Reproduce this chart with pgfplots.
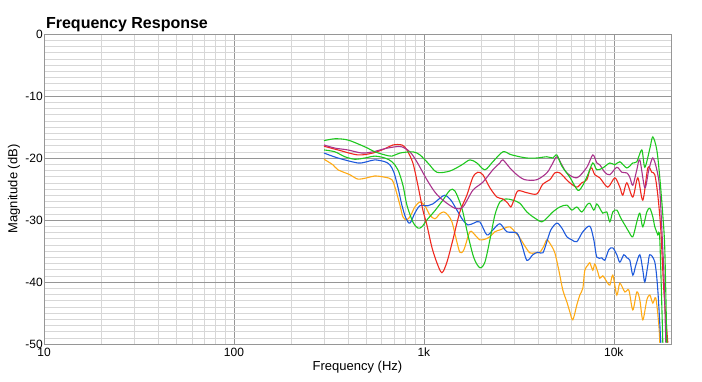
\documentclass[border=0pt]{standalone}
\usepackage{fontspec}
\setmainfont{Liberation Sans}
\usepackage{pgfplots}
\pgfplotsset{compat=1.18}
\definecolor{cgreen}{RGB}{30,200,30}
\definecolor{cpurple}{RGB}{170,50,140}
\definecolor{cred}{RGB}{240,40,30}
\definecolor{cblue}{RGB}{30,90,220}
\definecolor{corange}{RGB}{255,170,20}
\definecolor{majgrid}{RGB}{150,150,150}
\definecolor{mingrid}{RGB}{215,215,215}
\begin{document}
\begin{tikzpicture}
\path[use as bounding box] (0,0) rectangle (702pt,381pt);
\begin{axis}[
  at={(44pt,37pt)}, anchor=south west,
  scale only axis, width=627pt, height=310pt,
  xmode=log, xmin=10, xmax=20000, ymin=-50, ymax=0,
  xtick={10,100,1000,10000}, xticklabels={10,100,1k,10k},
  ytick={-50,-40,-30,-20,-10,0},
  minor y tick num=9,
  grid=both,
  major grid style={majgrid, line width=0.6pt},
  minor grid style={mingrid, line width=0.6pt},
  axis line style={majgrid, line width=0.8pt},
  major tick length=0pt, minor tick length=0pt,
  /pgf/number format/assume math mode=true,
  tick label style={font=\fontsize{12}{14}\selectfont},
  yticklabel style={inner sep=0pt, xshift=-1pt},
  xticklabel style={inner sep=0pt, yshift=-3.5pt},
  xlabel={Frequency (Hz)}, ylabel={Magnitude (dB)},
  label style={font=\fontsize{13}{15}\selectfont},
  xlabel style={at={(axis description cs:0.5,-0.074)}, anchor=center},
  ylabel style={at={(axis description cs:-0.048,0.5)}, anchor=center},
  title={Frequency Response},
  title style={at={(axis description cs:0.003,1)}, anchor=south west, inner sep=0pt, yshift=-4pt, font=\bfseries\fontsize{16}{18}\selectfont},
  every axis plot/.append style={line width=1.1pt, smooth, tension=0.5},
]
% orange
\addplot[corange] coordinates {(298,-20.2) (332,-21.1) (353,-21.9) (408,-22.7) (449,-23.4) (501,-23.2) (552,-22.9) (623,-23.1) (679,-23.5) (712,-25.2) (748,-27.6) (776,-29.5) (814,-30.0) (854,-29.2) (896,-27.9) (953,-27.1) (1012,-27.7) (1075,-29.2) (1143,-29.8) (1214,-29.0) (1274,-28.7) (1338,-29.2) (1405,-30.3) (1475,-32.9) (1547,-35.2) (1624,-34.8) (1747,-31.9) (1856,-32.4) (1971,-33.2) (2095,-33.1) (2226,-32.7) (2365,-31.9) (2512,-31.6) (2669,-31.3) (2836,-31.1) (3013,-31.9) (3201,-32.9) (3401,-34.2) (3613,-35.3) (3839,-35.3) (4078,-35.2) (4281,-34.2) (4439,-33.2) (4660,-34.0) (4892,-35.3) (5134,-38.1) (5389,-41.3) (5657,-43.2) (5866,-44.8) (6083,-46.1) (6386,-43.7) (6623,-42.1) (6868,-41.0) (7037,-38.1) (7298,-37.3) (7475,-36.9) (7752,-38.1) (7942,-37.1) (8237,-38.4) (8437,-39.4) (8749,-39.0) (9074,-39.7) (9526,-40.5) (9878,-38.9) (10370,-42.1) (10755,-40.2) (11427,-41.6) (11995,-41.3) (12589,-44.5) (13216,-41.6) (13706,-42.9) (14213,-46.1) (14920,-42.9) (15470,-42.1) (16042,-43.4) (16638,-42.6) (17254,-46.9) (17465,-49.8)};
% blue
\addplot[cblue] coordinates {(298,-19.2) (353,-20.0) (449,-20.8) (501,-20.6) (552,-20.3) (623,-20.6) (662,-21.1) (695,-22.3) (730,-24.7) (766,-27.6) (804,-29.7) (844,-30.5) (896,-28.9) (953,-27.7) (1050,-27.7) (1115,-27.4) (1214,-26.5) (1290,-26.0) (1388,-26.8) (1492,-28.4) (1604,-30.0) (1705,-30.8) (1833,-30.5) (1971,-30.3) (2146,-32.4) (2308,-31.6) (2512,-30.6) (2735,-31.9) (3087,-32.1) (3279,-34.0) (3485,-36.5) (3747,-35.6) (3981,-35.2) (4229,-35.3) (4439,-33.5) (4660,-31.6) (5012,-30.5) (5324,-31.3) (5657,-32.7) (6010,-33.2) (6386,-33.5) (6868,-31.9) (7475,-31.0) (7847,-33.2) (8137,-36.0) (8644,-36.1) (8964,-36.5) (9411,-34.8) (9878,-34.5) (10370,-35.6) (10755,-36.8) (11289,-35.6) (11708,-36.1) (12140,-36.5) (12589,-38.9) (13057,-37.3) (13706,-35.6) (14213,-38.1) (14563,-40.0) (15103,-37.3) (15470,-35.6) (16437,-36.8) (17046,-41.3) (17678,-49.8)};
% lower green
\addplot[cgreen] coordinates {(298,-18.7) (340,-19.0) (384,-19.8) (433,-20.2) (489,-20.0) (552,-19.7) (623,-20.0) (679,-20.6) (730,-21.9) (776,-24.4) (814,-27.6) (875,-30.3) (930,-31.3) (976,-31.1) (1037,-30.0) (1143,-28.5) (1259,-26.8) (1371,-25.2) (1456,-25.3) (1585,-28.1) (1705,-32.4) (1833,-36.1) (1971,-37.7) (2095,-36.8) (2226,-33.2) (2365,-29.2) (2512,-27.1) (2702,-26.6) (2941,-26.8) (3201,-27.3) (3485,-28.7) (3839,-29.7) (4178,-30.3) (4439,-29.7) (4774,-28.7) (5197,-27.9) (5657,-27.6) (6010,-28.4) (6386,-27.9) (6785,-28.7) (7210,-27.6) (7475,-27.3) (7847,-28.4) (8137,-27.4) (8437,-28.1) (8749,-28.9) (9185,-28.7) (9526,-30.3) (9878,-28.7) (10370,-28.4) (10886,-29.7) (11427,-30.8) (11995,-31.9) (12589,-32.7) (13216,-30.3) (13706,-28.9) (14213,-31.1) (14920,-28.7) (15470,-28.1) (16042,-29.5) (16437,-31.1) (17046,-32.4) (17465,-33.2) (18111,-49.8)};
% red
\addplot[cred] coordinates {(298,-18.1) (353,-18.7) (449,-19.5) (539,-19.2) (623,-18.5) (687,-17.9) (766,-17.9) (814,-18.7) (875,-20.8) (930,-24.4) (988,-28.4) (1037,-30.8) (1102,-34.4) (1171,-36.9) (1244,-38.5) (1322,-36.8) (1421,-33.2) (1547,-28.7) (1684,-26.0) (1811,-23.1) (1925,-22.3) (2044,-22.7) (2226,-24.8) (2423,-26.3) (2605,-26.6) (2768,-27.3) (2870,-27.9) (2977,-26.8) (3125,-25.3) (3485,-25.6) (3933,-25.8) (4229,-24.2) (4604,-23.5) (4892,-22.4) (5197,-22.4) (5522,-23.2) (5866,-24.0) (6386,-24.7) (6785,-24.0) (7210,-23.5) (7475,-21.9) (7658,-21.6) (7942,-22.7) (8437,-23.2) (9297,-24.7) (10121,-23.2) (10755,-24.7) (11153,-26.0) (11708,-24.0) (12589,-26.3) (13377,-23.2) (14213,-26.8) (15103,-21.6) (15849,-22.3) (16437,-22.7) (17046,-26.0) (17678,-31.6) (18333,-41.3) (19245,-49.8)};
% purple
\addplot[cpurple] coordinates {(298,-17.9) (340,-18.4) (398,-18.7) (472,-19.2) (539,-19.0) (623,-18.5) (704,-18.2) (766,-18.2) (844,-19.0) (918,-20.6) (1037,-23.5) (1143,-25.5) (1259,-26.8) (1456,-28.1) (1604,-27.9) (1811,-25.2) (2044,-23.9) (2308,-21.9) (2512,-20.8) (2605,-20.3) (2836,-21.6) (3087,-22.7) (3401,-23.5) (3933,-23.5) (4439,-22.4) (4717,-21.1) (5012,-19.8) (5324,-21.1) (5657,-22.4) (6386,-23.2) (7210,-21.5) (7752,-19.5) (8137,-20.8) (8437,-21.1) (8964,-22.3) (9526,-22.7) (10370,-21.5) (11019,-22.3) (11708,-22.4) (12140,-23.1) (12589,-24.4) (13216,-21.9) (13706,-20.3) (14563,-24.8) (15287,-21.9) (16042,-20.0) (16841,-21.9) (17465,-25.2) (18111,-34.8) (18333,-38.1) (18784,-49.8)};
% upper green
\addplot[cgreen] coordinates {(298,-17.2) (340,-16.9) (398,-17.1) (489,-18.2) (552,-19.0) (623,-19.5) (679,-19.7) (748,-19.2) (875,-19.0) (953,-19.5) (1050,-20.8) (1171,-22.3) (1371,-22.1) (1585,-21.1) (1747,-20.3) (1901,-20.8) (2095,-21.9) (2308,-20.6) (2605,-19.0) (2836,-19.4) (3087,-19.7) (3485,-20.0) (3933,-20.0) (4439,-19.8) (4774,-20.0) (5012,-19.5) (5324,-21.3) (5866,-23.1) (6464,-25.2) (6868,-24.4) (7298,-22.7) (7752,-20.8) (8137,-21.9) (8749,-21.6) (9526,-20.8) (10121,-21.1) (10755,-20.6) (11708,-21.6) (12589,-20.8) (13216,-20.6) (14042,-18.7) (14563,-21.5) (15470,-18.5) (16042,-16.6) (16841,-18.7) (17465,-23.2) (18111,-29.2) (18557,-34.8) (19012,-49.8)};
\end{axis}
\end{tikzpicture}
\end{document}
